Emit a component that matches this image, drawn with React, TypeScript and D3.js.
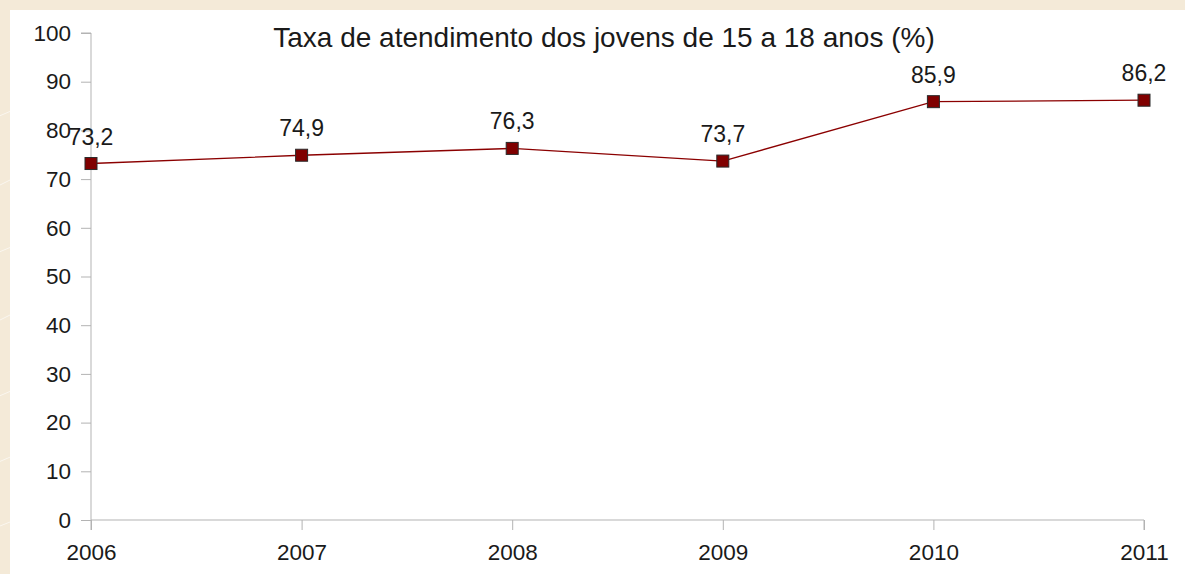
import React, { useEffect, useRef } from 'react';
import * as d3 from 'd3';

const years = ['2006', '2007', '2008', '2009', '2010', '2011'];
const rates = [73.2, 74.9, 76.3, 73.7, 85.9, 86.2];
const rateLabels = ['73,2', '74,9', '76,3', '73,7', '85,9', '86,2'];
const yTicks = [0, 10, 20, 30, 40, 50, 60, 70, 80, 90, 100];
const title = 'Taxa de atendimento dos jovens de 15 a 18 anos (%)';

const W = 1185;
const H = 574;

const App: React.FC = () => {
  const svgRef = useRef<SVGSVGElement>(null);

  useEffect(() => {
    if (!svgRef.current) return;
    const svg = d3.select(svgRef.current);
    svg.selectAll('*').remove();

    const font = 'Liberation Sans, Arial, sans-serif';
    const left = 91, right = 1144, top = 33, bottom = 520;

    // beige backdrop with faint streaks
    svg.append('rect').attr('width', W).attr('height', H).attr('fill', '#f4ead8');
    const streaks = [[-20, 330, 60, 290], [-20, 260, 40, 235], [-10, 400, 60, 370], [-20, 470, 50, 440], [-10, 530, 40, 510], [-30, 200, 50, 160], [-10, 120, 60, 90]];
    svg.append('g')
      .selectAll('line')
      .data(streaks)
      .join('line')
      .attr('x1', d => d[0]).attr('y1', d => d[1])
      .attr('x2', d => d[2]).attr('y2', d => d[3])
      .attr('stroke', '#fff').attr('stroke-width', 1).attr('opacity', 0.6);

    svg.append('rect').attr('x', 10).attr('y', 10).attr('width', W - 10).attr('height', H - 10).attr('fill', '#fff');

    const x = d3.scalePoint<string>().domain(years).range([left, right]);
    const y = d3.scaleLinear().domain([0, 100]).range([bottom, top]);

    // y axis
    const yAxis = svg.append('g')
      .attr('transform', `translate(${left},0)`)
      .call(d3.axisLeft(y).tickValues(yTicks).tickSize(10).tickPadding(10).tickFormat(d3.format('d')));
    yAxis.select('.domain').attr('stroke', '#b3b3b3').attr('d', `M-10,${top}H0V${bottom + 10}`);
    yAxis.selectAll('.tick line').attr('stroke', '#b3b3b3');
    yAxis.selectAll('.tick text')
      .attr('font-family', font).attr('font-size', 22.5).attr('fill', '#1a1a1a');

    // x axis
    const xAxis = svg.append('g')
      .attr('transform', `translate(0,${bottom})`)
      .call(d3.axisBottom(x).tickSize(10).tickPadding(14));
    xAxis.select('.domain').attr('stroke', '#b3b3b3').attr('d', `M${left},0H${right}V10`);
    xAxis.selectAll('.tick line').attr('stroke', '#b3b3b3');
    xAxis.selectAll('.tick text')
      .attr('font-family', font).attr('font-size', 22.5).attr('fill', '#1a1a1a');

    // title
    svg.append('text')
      .attr('x', 604).attr('y', 47)
      .attr('text-anchor', 'middle')
      .attr('font-family', font).attr('font-size', 28).attr('fill', '#1a1a1a')
      .text(title);

    const pts = years.map((yr, i) => ({ yr, v: rates[i], label: rateLabels[i] }));

    const line = d3.line<any>().x(d => x(d.yr)!).y(d => y(d.v));
    svg.append('path')
      .datum(pts)
      .attr('fill', 'none')
      .attr('stroke', '#8b0000')
      .attr('stroke-width', 1.3)
      .attr('d', line);

    const s = 12;
    svg.append('g')
      .selectAll('rect')
      .data(pts)
      .join('rect')
      .attr('x', d => x(d.yr)! - s / 2)
      .attr('y', d => y(d.v) - s / 2)
      .attr('width', s).attr('height', s)
      .attr('fill', '#800000')
      .attr('stroke', '#2a2a2a').attr('stroke-width', 1);

    svg.append('g')
      .selectAll('text')
      .data(pts)
      .join('text')
      .attr('x', d => x(d.yr)!)
      .attr('y', d => y(d.v) - 19)
      .attr('text-anchor', 'middle')
      .attr('font-family', font).attr('font-size', 23).attr('fill', '#1a1a1a')
      .text(d => d.label);
  }, []);

  return (
    <svg ref={svgRef} width={W} height={H}
      style={{ position: 'absolute', left: 0, top: 0, display: 'block' }} />
  );
};

export default App;
